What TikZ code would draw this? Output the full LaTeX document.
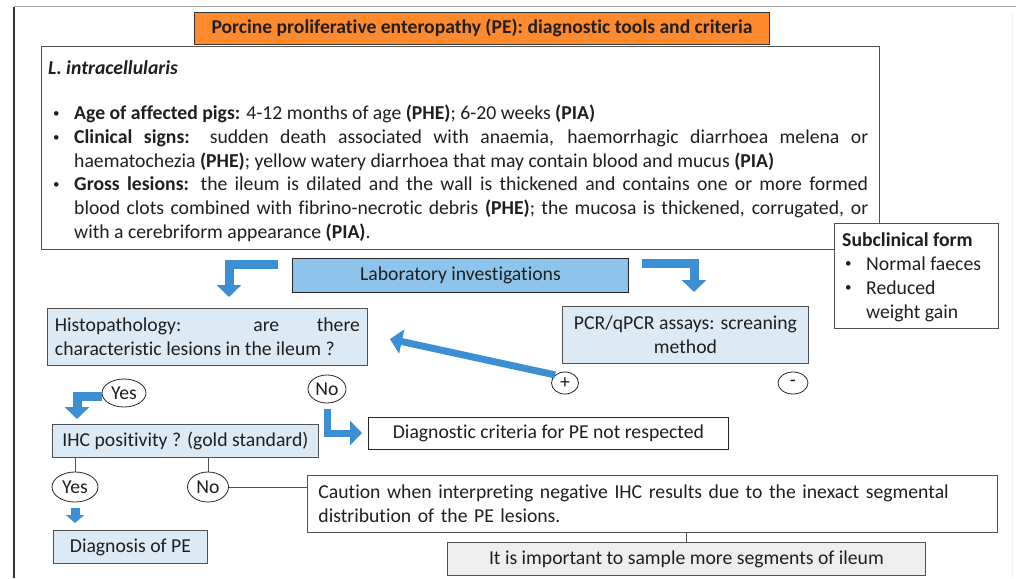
\documentclass[tikz,border=0pt]{standalone}
\usepackage{fontspec}
\setmainfont{Carlito}[Ligatures=NoCommon]
\usetikzlibrary{arrows.meta,shapes.geometric}
\definecolor{orangefill}{HTML}{FF8A2E}
\definecolor{labblue}{HTML}{8EC4EC}
\definecolor{paleblue}{HTML}{DCEAF6}
\definecolor{arrowblue}{HTML}{3C8FD2}
\definecolor{edgegray}{HTML}{505050}
\definecolor{notegray}{HTML}{EEEEEE}
\newcommand\smallbullet{\raisebox{2.3pt}{\fontsize{13}{13}\selectfont\textbullet}}
\newcommand\pigitem[1]{\par\noindent\hangindent=22pt\hangafter=1\relax\makebox[22pt][l]{\hspace*{1pt}\smallbullet}#1}
\begin{document}
\begin{tikzpicture}[x=1pt,y=-1pt,
  every node/.style={font=\fontsize{19.7}{23.8}\selectfont, text=black!88},
  box/.style={draw=edgegray, line width=0.9pt, rectangle, inner sep=0pt, anchor=north west},
  ell/.style={ellipse, draw=black!85, line width=0.8pt, inner sep=0pt, fill=white},
  barrow/.style={draw=arrowblue, line width=9pt, line join=miter,
    -{Triangle[length=12pt,width=24pt]}},
  thinline/.style={draw=edgegray, line width=0.8pt}]
% page and frame
\fill[white] (0,0) rectangle (1016,578);
\useasboundingbox (0,0) rectangle (1016,578);
\draw[black!80, line width=1.2pt] (14,7) -- (14,578);
\draw[gray!70, line width=1pt] (14,7) -- (1016,7);
\draw[gray!12, line width=1pt] (1012,12) -- (1012,578);

% title
\node[draw=black!80, fill=orangefill, line width=0.9pt, minimum width=575pt, minimum height=32pt,
  font=\fontsize{19.6}{22}\selectfont\bfseries] (title) at (482,28)
  {Porcine proliferative enteropathy (PE): diagnostic tools and criteria};

% clinical description
\node[box, fill=white, minimum width=838pt, minimum height=203pt] (main) at (41,46) {};
\node[anchor=west, inner sep=0pt] (species) at (48,68) {\textbf{\textit{L. intracellularis}}};
\node[anchor=north west, inner sep=0pt, text width=816pt, align=justify] (signs) at (52,95.5)
{\hyphenpenalty=10000\tolerance=10000
\pigitem{\textbf{Age of affected pigs:} 4-12 months of age \textbf{(PHE)}; 6-20 weeks \textbf{(PIA)}}
\pigitem{\textbf{Clinical signs:} sudden death associated with anaemia, haemorrhagic diarrhoea melena or\linebreak haematochezia \textbf{(PHE)}; yellow watery diarrhoea that may contain blood and mucus \textbf{(PIA)}}
\pigitem{\textbf{Gross lesions:} the ileum is dilated and the wall is thickened and contains one or more formed\linebreak blood clots combined with fibrino-necrotic debris \textbf{(PHE)}; the mucosa is thickened, corrugated, or\linebreak with a cerebriform appearance \textbf{(PIA)}.}\par};

% subclinical form
\node[box, fill=white, minimum width=164pt, minimum height=105pt] (sub) at (834,223) {};
\node[anchor=north west, inner sep=0pt, align=left, font=\fontsize{19.7}{24}\selectfont] (subtext) at (842,232)
{\textbf{Subclinical form}\\\hspace*{3pt}\makebox[21pt][l]{\smallbullet}Normal faeces\\\hspace*{3pt}\makebox[21pt][l]{\smallbullet}Reduced\\\hspace*{24pt}weight gain};

% laboratory stage
\node[box, fill=labblue, draw=black!85, minimum width=336pt, minimum height=34pt] (lab) at (292,258) {Laboratory investigations};
\node[box, fill=paleblue, minimum width=320pt, minimum height=57pt, text width=305pt, align=justify] (histo) at (47,308)
  {Histopathology: are there\linebreak characteristic lesions in the ileum ?};
\node[box, fill=paleblue, minimum width=246pt, minimum height=57pt, align=center] (pcr) at (562,306)
  {PCR/qPCR assays: screaning\\method};
\node[ell, minimum width=27pt, minimum height=22pt] (plus) at (565,383) {+};
\node[ell, minimum width=30pt, minimum height=22pt] (minus) at (793,383) {-};

% histopathology outcome
\node[ell, minimum width=44pt, minimum height=28pt] (yes1) at (124,393) {Yes};
\node[ell, minimum width=38pt, minimum height=28pt] (no1) at (327,389) {No};
\node[box, fill=white, draw=black!85, minimum width=360pt, minimum height=32pt] (crit) at (368,417) {Diagnostic criteria for PE not respected};
\node[box, fill=paleblue, minimum width=266pt, minimum height=33pt] (ihc) at (52,424) {IHC positivity ? (gold standard)};

% IHC outcome
\node[ell, minimum width=46pt, minimum height=30pt] (yes2) at (75,487) {Yes};
\node[ell, minimum width=41pt, minimum height=30pt] (no2) at (208,487) {No};
\node[box, fill=paleblue, minimum width=154pt, minimum height=33pt] (pe) at (53,530) {Diagnosis of PE};
\node[box, fill=white, minimum width=690pt, minimum height=57pt, text width=668pt, align=left] (caution) at (307,475)
  {Caution when interpreting negative IHC results due to the inexact segmental\\distribution of the PE lesions.};
\node[box, fill=notegray, minimum width=478pt, minimum height=33pt] (sample) at (447,542) {It is important to sample more segments of ileum};

% arrows
\coordinate (labL) at (278,264);
\coordinate (histoIn) at (229,297);
\draw[barrow] (labL) -| (histoIn);
\coordinate (labR) at (642,263);
\coordinate (pcrIn) at (694,292);
\draw[barrow] (labR) -| (pcrIn);
\coordinate (histoTip) at (390,339);
\draw[barrow, line width=7pt] (plus.north west) -- (histoTip);
\coordinate (ihcIn) at (77,419);
\draw[barrow] ([yshift=-3pt]yes1.west) -| (ihcIn);
\coordinate (critIn) at (362,433);
\draw[barrow, line width=7pt] ([yshift=-6pt]no1.south) |- (critIn);
\path (yes2.south |- pe.north) coordinate (peTop);
\draw[barrow, -{Triangle[length=8pt,width=18pt]}] ([yshift=-6pt]yes2.south) -- ([yshift=7pt]peTop);

% thin links
\draw[thinline] (yes2.north) -- (yes2.north |- ihc.south);
\draw[thinline] (no2.north) -- (no2.north |- ihc.south);
\draw[thinline] (no2.east) -- (no2.east -| caution.west);
\draw[thinline] (sample.north) -- (sample.north |- caution.south);
\end{tikzpicture}
\end{document}
